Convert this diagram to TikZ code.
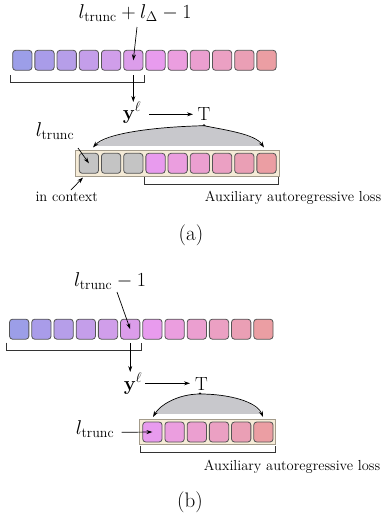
\RequirePackage{fix-cm}
\documentclass[tikz,border=0pt]{standalone}
\usepackage{amsmath}
\usetikzlibrary{arrows.meta}
\definecolor{c1}{HTML}{9C9EE8}
\definecolor{c2}{HTML}{A99CE9}
\definecolor{c3}{HTML}{B69EE9}
\definecolor{c4}{HTML}{C49EEA}
\definecolor{c5}{HTML}{D09EEA}
\definecolor{c6}{HTML}{DC9DEA}
\definecolor{c7}{HTML}{E89BEE}
\definecolor{c8}{HTML}{EB9EDF}
\definecolor{c9}{HTML}{EB9FD0}
\definecolor{c10}{HTML}{EBA0C3}
\definecolor{c11}{HTML}{EA9FB5}
\definecolor{c12}{HTML}{EB9EA3}
\definecolor{sqgray}{HTML}{C4C4C4}
\definecolor{sqborder}{HTML}{555555}
\definecolor{boxfill}{HTML}{F5EBD7}
\definecolor{boxborder}{HTML}{A39B8B}
\definecolor{arcfill}{HTML}{C8C8CC}
\tikzset{
  sq/.style={rectangle, rounded corners=3pt, minimum width=19.3pt, minimum height=20pt, inner sep=0pt, draw=sqborder, line width=0.8pt},
  ctx/.style={rectangle, fill=boxfill, draw=boxborder, line width=0.8pt, inner sep=0pt},
  arr/.style={-{Stealth[length=6pt,width=4pt]}, line width=0.7pt, black},
  brk/.style={line width=0.7pt, draw=black!80},
  mlbl/.style={font=\fontsize{20}{22}\selectfont, inner sep=0pt},
  tlbl/.style={font=\fontsize{19}{21}\selectfont, inner sep=0pt},
  txt/.style={font=\fontsize{14.5}{16}\selectfont, inner sep=0pt},
  caplbl/.style={font=\fontsize{21}{24}\selectfont, inner sep=0pt},
  dotn/.style={circle, fill=black, inner sep=0pt, minimum size=3.2pt},
}
\begin{document}
\begin{tikzpicture}[x=1pt, y=-1pt]
\useasboundingbox (0,0) rectangle (386,514);
% ================= (a) =================
\foreach \i in {1,...,12}{
  \pgfmathsetmacro{\xx}{22.3+22.2*(\i-1)}
  \node[sq, fill=c\i] (a\i) at (\xx,60.3) {};
}
\node[mlbl] (lab1) at (135,13) {$l_{\mathrm{trunc}}+l_{\Delta}-1$};
\draw[arr] (137,27) -- (a6.center);
\draw[brk] (10,75) -- (10,82) -- (144,82) -- (144,75);
\coordinate (ya) at (133.3,75);
\node[mlbl, anchor=base] (yla) at (132,119) {$\mathbf{y}^{\ell}$};
\draw[arr] (ya) -- (133.3,102);
\node[tlbl, anchor=base] (Ta) at (204,120) {T};
\draw[arr] (149,114.3) -- (193,114.3);
\node[dotn] (da) at (204,125.7) {};
\coordinate (La) at (93,147.5);
\coordinate (Ra) at (264,147.5);
\begin{scope}
  \clip (0,0) rectangle (386,145);
  \fill[arcfill] (da.center) .. controls (150,127) and (105,134) .. (La) -- (Ra)
     .. controls (255,134) and (225,130) .. (da.center) -- cycle;
\end{scope}
\draw[arr] (da.center) .. controls (150,127) and (105,134) .. (La);
\draw[arr] (da.center) .. controls (225,130) and (255,134) .. (Ra);
\node[ctx, minimum width=203.3pt, minimum height=25.3pt] (boxa) at (177.4,163.3) {};
\foreach \k in {3,4,5}{
  \pgfmathsetmacro{\xx}{22.3+22.2*\k}
  \node[sq, fill=sqgray] (b\k) at (\xx,163.3) {};
}
\foreach \k in {6,...,11}{
  \pgfmathsetmacro{\xx}{22.3+22.2*\k}
  \pgfmathtruncatemacro{\cc}{\k+1}
  \node[sq, fill=c\cc] (b\k) at (\xx,163.3) {};
}
\node[mlbl] (lta) at (55,131) {$l_{\mathrm{trunc}}$};
\draw[arr] (78,148) -- (b3.center);
\node[txt] (ic) at (66.7,197) {in context};
\draw[arr] (71,190) -- (83,177.5);
\draw[brk] (144,177) -- (144,184) -- (278,184) -- (278,177);
\node[txt] (auxa) at (293,198) {Auxiliary autoregressive loss};
\node[caplbl] (capa) at (191,235) {(a)};
% ================= (b) =================
\foreach \i in {1,...,12}{
  \pgfmathsetmacro{\xx}{19.2+22.2*(\i-1)}
  \node[sq, fill=c\i] (t\i) at (\xx,329.2) {};
}
\node[mlbl] (lab2) at (110,281) {$l_{\mathrm{trunc}}-1$};
\draw[arr] (117,292) -- (t6.center);
\draw[brk] (6.7,342.7) -- (6.7,350) -- (141.7,350) -- (141.7,342.7);
\coordinate (yb) at (130.2,343);
\node[mlbl, anchor=base] (ylb) at (133,390) {$\mathbf{y}^{\ell}$};
\draw[arr] (yb) -- (130.2,372);
\node[tlbl, anchor=base] (Tb) at (201.5,390) {T};
\draw[arr] (145,383.3) -- (190,383.3);
\node[dotn] (db) at (200,394) {};
\coordinate (Lb) at (153,417);
\coordinate (Rb) at (263,417);
\begin{scope}
  \clip (0,0) rectangle (386,413.5);
  \fill[arcfill] (db.center) .. controls (178,394) and (160,405) .. (Lb) -- (Rb)
     .. controls (257,402) and (230,394) .. (db.center) -- cycle;
\end{scope}
\draw[arr] (db.center) .. controls (178,394) and (160,405) .. (Lb);
\draw[arr] (db.center) .. controls (230,394) and (257,402) .. (Rb);
\node[ctx, minimum width=136.2pt, minimum height=24.7pt] (boxb) at (207.4,431.7) {};
\foreach \k in {6,...,11}{
  \pgfmathsetmacro{\xx}{19.2+22.2*\k}
  \pgfmathtruncatemacro{\cc}{\k+1}
  \node[sq, fill=c\cc] (u\k) at (\xx,432) {};
}
\node[mlbl] (ltb) at (95,429) {$l_{\mathrm{trunc}}$};
\draw[arr] (121.7,432.3) -- (u6.center);
\draw[brk] (140.7,445.7) -- (140.7,452.7) -- (275,452.7) -- (275,445.7);
\node[txt] (auxb) at (292,467) {Auxiliary autoregressive loss};
\node[caplbl] (capb) at (190,502) {(b)};
\end{tikzpicture}
\end{document}
